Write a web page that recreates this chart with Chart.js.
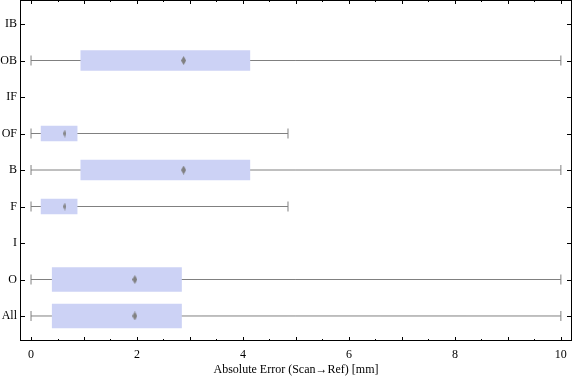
<!DOCTYPE html>
<html>
<head>
<meta charset="utf-8">
<script src="https://cdn.jsdelivr.net/npm/chart.js@4"></script>
<style>
  html, body { margin: 0; padding: 0; background: #fff; }
  #wrap { width: 576px; height: 381px; }
</style>
</head>
<body>
<div id="wrap"><canvas id="c" width="576" height="381"></canvas></div>
<script>
// ---- data ----
const categories = ['IB', 'OB', 'IF', 'OF', 'B', 'F', 'I', 'O', 'All'];
const whiskerLow  = [null, 0,    null, 0,    0,    0,    null, 0,    0];
const quartileLow = [null, 0.94, null, 0.19, 0.94, 0.19, null, 0.40, 0.40];
const medianVal   = [null, 2.88, null, 0.64, 2.88, 0.64, null, 1.96, 1.96];
const quartileHigh= [null, 4.13, null, 0.87, 4.13, 0.87, null, 2.84, 2.84];
const whiskerHigh = [null, 10,   null, 4.85, 10,   4.85, null, 10,   10];
const xTickLabels = [0, 2, 4, 6, 8, 10];
const xAxisTitle = 'Absolute Error (Scan\u2192Ref) [mm]';

// ---- styles ----
const boxColor = 'rgb(204,210,245)';
const grayColor = 'rgb(128,128,128)';
const boxThicknessStyle = { OB: 20, OF: 15, B: 20, F: 15, O: 24, All: 24 };
const diamondStyle = { OB: [5, 9], OF: [3, 8], B: [5, 9], F: [3, 8], O: [5, 9], All: [5, 9] };

function diamondCanvas(w, h) {
  const cv = document.createElement('canvas');
  cv.width = w; cv.height = h;
  const g = cv.getContext('2d');
  g.fillStyle = grayColor;
  g.beginPath();
  g.moveTo(w / 2, 0);
  g.lineTo(w, h / 2);
  g.lineTo(w / 2, h);
  g.lineTo(0, h / 2);
  g.closePath();
  g.fill();
  return cv;
}

const datasets = [];
categories.forEach((cat, i) => {
  if (whiskerLow[i] === null) return;
  datasets.push({
    type: 'line',
    data: [{ x: whiskerLow[i], y: i }, { x: whiskerHigh[i], y: i }],
    borderColor: grayColor,
    borderWidth: 1,
    pointStyle: 'line',
    pointRotation: 90,
    pointRadius: 5,
    pointBorderColor: grayColor,
    pointBorderWidth: 1,
    pointHoverRadius: 5,
    fill: false,
    order: 3
  });
  datasets.push({
    type: 'bar',
    data: [{ x: [quartileLow[i], quartileHigh[i]], y: i }],
    backgroundColor: boxColor,
    borderWidth: 0,
    barThickness: boxThicknessStyle[cat],
    grouped: false,
    order: 2
  });
  const ds = diamondStyle[cat];
  datasets.push({
    type: 'line',
    data: [{ x: medianVal[i], y: i }],
    showLine: false,
    pointStyle: diamondCanvas(ds[0], ds[1]),
    pointRadius: 4,
    order: 1
  });
});

const framePlugin = {
  id: 'frame',
  afterDraw(chart) {
    const { ctx, chartArea: a, scales } = chart;
    const xs = scales.x, ys = scales.y;
    ctx.save();
    ctx.strokeStyle = '#000';
    ctx.lineWidth = 1;
    ctx.strokeRect(Math.round(a.left) + 0.5, Math.round(a.top) + 0.5,
                   Math.round(a.right - a.left) - 1, Math.round(a.bottom - a.top) - 1);
    ctx.beginPath();
    for (let v = 0; v <= 10.001; v += 0.5) {
      const px = Math.round(xs.getPixelForValue(v)) + 0.5;
      const len = Math.abs(v - Math.round(v)) < 1e-6 ? 4 : 2;
      ctx.moveTo(px, a.bottom);
      ctx.lineTo(px, a.bottom - len);
      ctx.moveTo(px, a.top);
      ctx.lineTo(px, a.top + len);
    }
    categories.forEach((c, i) => {
      const py = Math.round(ys.getPixelForValue(i)) + 0.5;
      ctx.moveTo(a.left, py);
      ctx.lineTo(a.left + 5, py);
      ctx.moveTo(a.right, py);
      ctx.lineTo(a.right - 5, py);
    });
    ctx.stroke();
    ctx.restore();
  }
};

Chart.defaults.font.family = "'Liberation Serif', 'Times New Roman', serif";
Chart.defaults.font.size = 12;
Chart.defaults.color = '#000';

new Chart(document.getElementById('c'), {
  type: 'bar',
  data: { datasets },
  options: {
    indexAxis: 'y',
    responsive: false,
    animation: false,
    events: [],
    layout: { autoPadding: false, padding: { left: 0, top: 0, right: 4, bottom: 0 } },
    plugins: { legend: { display: false }, tooltip: { enabled: false } },
    scales: {
      x: {
        type: 'linear',
        position: 'bottom',
        offset: false,
        min: -0.208,
        max: 10.21,
        grid: { display: false, drawTicks: false, offset: false },
        border: { display: false },
        afterBuildTicks: s => { s.ticks = xTickLabels.map(v => ({ value: v })); },
        ticks: { padding: 7, maxRotation: 0, autoSkip: false, color: '#000' },
        title: { display: true, text: xAxisTitle, padding: { top: 2, bottom: 4 }, color: '#000' },
        afterFit: s => { s.height = 40; s.paddingLeft = 0; s.paddingRight = 0; }
      },
      y: {
        type: 'linear',
        position: 'left',
        offset: false,
        reverse: true,
        min: -0.658,
        max: 8.685,
        grid: { display: false, drawTicks: false, offset: false },
        border: { display: false },
        afterBuildTicks: s => { s.ticks = categories.map((c, i) => ({ value: i })); },
        ticks: {
          padding: 3, autoSkip: false, color: '#000',
          callback: v => categories[v]
        },
        afterFit: s => { s.width = 20; s.paddingTop = 0; s.paddingBottom = 0; }
      }
    }
  },
  plugins: [framePlugin]
});
</script>
</body>
</html>
